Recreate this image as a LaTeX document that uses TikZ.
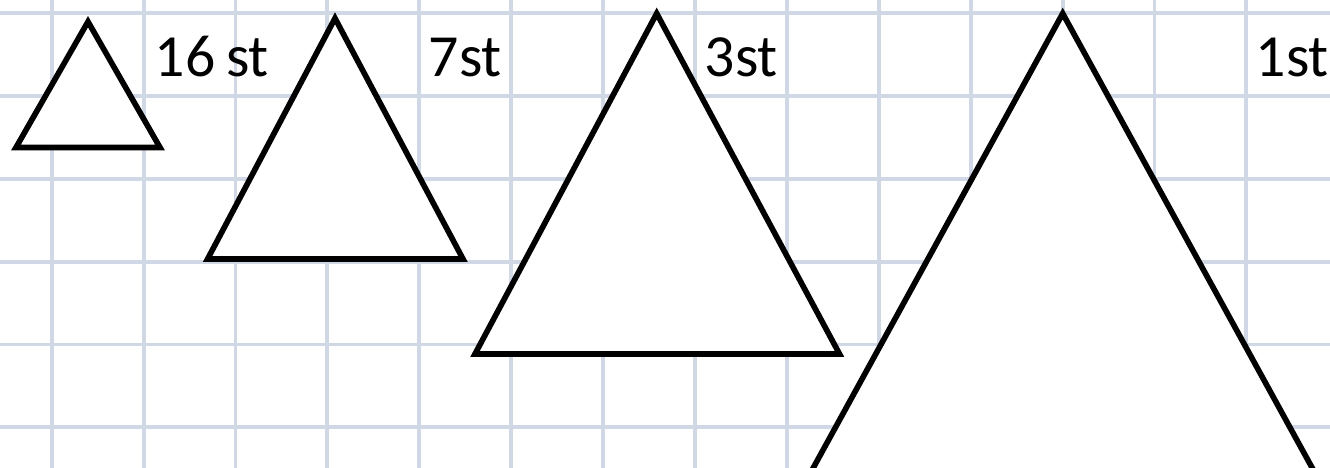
\documentclass[tikz,border=0pt]{standalone}
\usepackage{fontspec}
\setmainfont{Carlito}
\usepackage{tikz}
\usetikzlibrary{positioning,calc}
\usepackage{xcolor}
\definecolor{gridblue}{HTML}{D0D8E5}

\begin{document}
\begin{tikzpicture}[
    x=0.01cm, y=-0.01cm,
    gridLine/.style={draw=gridblue, line width=1.1pt},
    triShape/.style={draw=black, fill=white, line width=1.6pt, line join=miter},
    sizeLabel/.style={anchor=base west, inner sep=0pt, font=\fontsize{17}{20}\selectfont}
]
    \useasboundingbox (0,0) rectangle (1330,468);
    \clip (0,0) rectangle (1330,468);
    \fill[white] (0,0) rectangle (1330,468);

    % Rutnät
    \foreach \gx in {0,...,13} {
        \draw[gridLine] ({51.7+91.9*\gx},0) -- ({51.7+91.9*\gx},468);
    }
    \foreach \gy in {0,...,5} {
        \draw[gridLine] (0,{13.3+82.8*\gy}) -- (1330,{13.3+82.8*\gy});
    }

    % Trianglar
    \coordinate (topA) at (88,21.7);
    \coordinate (topB) at (335,18.3);
    \coordinate (topC) at (656.7,13.5);
    \coordinate (topD) at (1062.7,13.5);

    \draw[triShape] (topA) -- (16,147.5) -- (160,147.5) -- cycle;
    \draw[triShape] (topB) -- (207.6,259) -- (463,259) -- cycle;
    \draw[triShape] (topC) -- (475,354) -- (839.5,354) -- cycle;
    \draw[triShape] (topD) -- ($(topD)+(-329.4,600)$) -- ($(topD)+(329.4,600)$) -- cycle;

    % Etiketter
    \node[sizeLabel] (lblA) at (154,77) {16\hspace{0.18em}st};
    \node[sizeLabel] (lblB) at (428,77) {7st};
    \node[sizeLabel] (lblC) at (704,77) {3st};
    \node[sizeLabel] (lblD) at (1255,77) {1st};
\end{tikzpicture}
\end{document}
